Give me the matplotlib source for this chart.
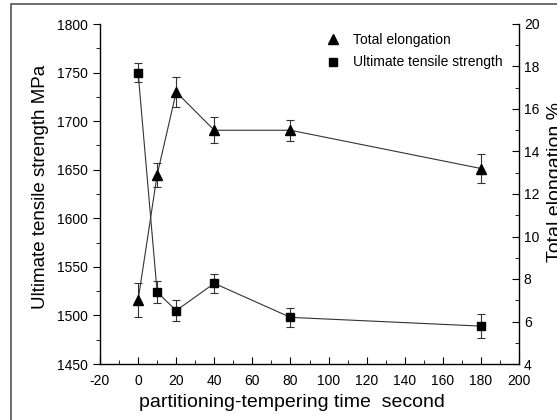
import matplotlib.pyplot as plt
from matplotlib.patches import Rectangle
from matplotlib.ticker import MultipleLocator

time_s = [0, 10, 20, 40, 80, 180]
uts = [1750, 1524, 1505, 1533, 1498, 1489]
uts_err = [10, 11, 11, 10, 10, 12]
elong = [7.0, 12.9, 16.8, 15.0, 15.0, 13.2]
elong_err = [0.8, 0.57, 0.7, 0.6, 0.5, 0.68]

plt.rcParams['font.family'] = ['Liberation Sans', 'DejaVu Sans']
plt.rcParams['axes.unicode_minus'] = False

fig = plt.figure(figsize=(5.57, 4.2), dpi=100)
ax = fig.add_axes([100 / 557, 1 - 364 / 420, 419 / 557, 340 / 420])
ax2 = ax.twinx()

line_kw = dict(color='#333333', linewidth=0.8, ecolor='#333333', elinewidth=0.8, capsize=3, capthick=0.8)
ax.errorbar(time_s, uts, yerr=uts_err, marker='s', markersize=5.5, mfc='black', mec='black', **line_kw)
ax2.errorbar(time_s, elong, yerr=elong_err, marker='^', markersize=7, mfc='black', mec='black', **line_kw)

ax.set_xlim(-20, 200)
ax.set_ylim(1450, 1800)
ax2.set_ylim(4, 20)
ax.xaxis.set_major_locator(MultipleLocator(20))
ax.xaxis.set_minor_locator(MultipleLocator(10))
ax.yaxis.set_major_locator(MultipleLocator(50))
ax.yaxis.set_minor_locator(MultipleLocator(25))
ax2.yaxis.set_major_locator(MultipleLocator(2))
ax2.yaxis.set_minor_locator(MultipleLocator(1))

for a in (ax, ax2):
    a.spines['top'].set_visible(False)
    for s in a.spines.values():
        s.set_linewidth(1.0)
ax.spines['right'].set_visible(False)
ax2.spines['left'].set_visible(False)
ax2.spines['bottom'].set_visible(False)

ax.tick_params(axis='y', which='both', direction='out', labelsize=10)
ax.tick_params(axis='y', which='major', length=5)
ax.tick_params(axis='y', which='minor', length=3)
ax.tick_params(axis='x', which='both', direction='in', labelsize=10, pad=7)
ax.tick_params(axis='x', which='major', length=5)
ax.tick_params(axis='x', which='minor', length=3)
ax2.tick_params(axis='y', which='both', direction='in', labelsize=10)
ax2.tick_params(axis='y', which='major', length=5)
ax2.tick_params(axis='y', which='minor', length=3)

ax.set_xlabel('partitioning-tempering time  second', fontsize=14)
ax.xaxis.set_label_coords(0.458, -0.088)
ax.set_ylabel('Ultimate tensile strength MPa', fontsize=13.5)
ax.yaxis.set_label_coords(-0.122, 0.52)
ax2.set_ylabel('Total elongation %', fontsize=14)
ax2.yaxis.set_label_coords(1.066, 0.535)

ax.plot([], [], '^', color='black', markersize=7, label='Total elongation')
ax.plot([], [], 's', color='black', markersize=5.5, label='Ultimate tensile strength')
ax.legend(loc='upper right', bbox_to_anchor=(0.99, 1.01), frameon=False, fontsize=10,
          handletextpad=0.9, labelspacing=0.6, handlelength=1.0)

fig.patches.append(Rectangle((11 / 557, -0.1), 1.2, 1.1 - 4 / 420, transform=fig.transFigure,
                             fill=False, edgecolor='#555555', linewidth=1.2))

fig.savefig('out.png', dpi=100)
